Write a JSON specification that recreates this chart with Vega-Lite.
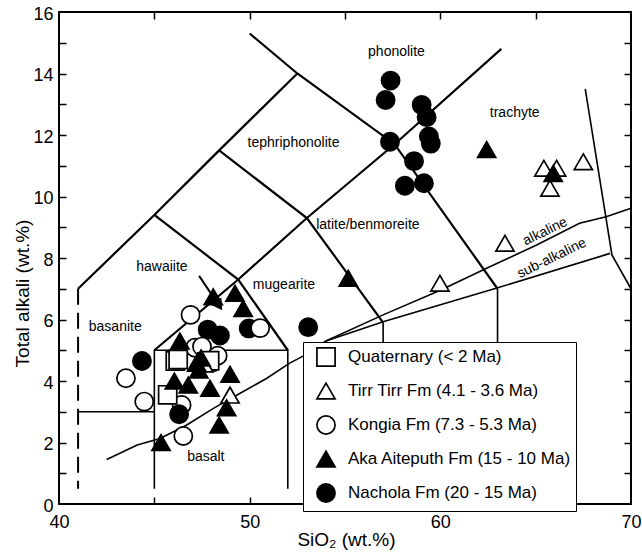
{
  "$schema": "https://vega.github.io/schema/vega-lite/v6.json",
  "autosize": "none",
  "width": 572,
  "height": 492,
  "padding": {"left": 59, "top": 12, "right": 11, "bottom": 50},
  "background": "white",
  "config": {
    "font": "Liberation Sans, Arial, sans-serif",
    "view": {"stroke": "black", "strokeWidth": 2},
    "axis": {
      "grid": false,
      "domain": false,
      "tickColor": "black",
      "tickWidth": 1.5,
      "tickSize": 7,
      "labelColor": "black",
      "labelFont": "Liberation Sans, Arial, sans-serif",
      "labelFontSize": 18,
      "labelFlush": false,
      "titleColor": "black",
      "titleFont": "Liberation Sans, Arial, sans-serif",
      "titleFontSize": 19,
      "titleFontWeight": "normal"
    },
    "legend": {
      "title": null,
      "orient": "none",
      "legendX": 244,
      "legendY": 330,
      "direction": "vertical",
      "fillColor": "white",
      "strokeColor": "black",
      "padding": 5,
      "labelFont": "Liberation Sans, Arial, sans-serif",
      "labelFontSize": 17,
      "labelColor": "black",
      "labelLimit": 400,
      "symbolSize": 330,
      "symbolStrokeWidth": 1.7,
      "symbolOffset": 8,
      "labelOffset": 12,
      "rowPadding": 9
    }
  },
  "datasets": {
    "boundaries": [
      {"seg": "A", "ord": 1, "sio2": 41, "alk": 7},
      {"seg": "A", "ord": 2, "sio2": 45, "alk": 9.4},
      {"seg": "A", "ord": 3, "sio2": 48.4, "alk": 11.5},
      {"seg": "A", "ord": 4, "sio2": 52.5, "alk": 14},
      {"seg": "B", "ord": 1, "sio2": 50, "alk": 15.3},
      {"seg": "B", "ord": 2, "sio2": 52.5, "alk": 14},
      {"seg": "B", "ord": 3, "sio2": 57.6, "alk": 11.7},
      {"seg": "B", "ord": 4, "sio2": 63, "alk": 7},
      {"seg": "C", "ord": 1, "sio2": 45, "alk": 9.4},
      {"seg": "C", "ord": 2, "sio2": 49.4, "alk": 7.3},
      {"seg": "C", "ord": 3, "sio2": 52, "alk": 5},
      {"seg": "D", "ord": 1, "sio2": 48.4, "alk": 11.5},
      {"seg": "D", "ord": 2, "sio2": 53, "alk": 9.3},
      {"seg": "D", "ord": 3, "sio2": 57, "alk": 5.9},
      {"seg": "E", "ord": 1, "sio2": 45, "alk": 5},
      {"seg": "E", "ord": 2, "sio2": 49.4, "alk": 7.3},
      {"seg": "E", "ord": 3, "sio2": 53, "alk": 9.3},
      {"seg": "E", "ord": 4, "sio2": 57.6, "alk": 11.7},
      {"seg": "E", "ord": 5, "sio2": 63.2, "alk": 14.8}
    ],
    "thinlines": [
      {"seg": "F", "ord": 1, "sio2": 67.6, "alk": 13.5},
      {"seg": "F", "ord": 2, "sio2": 69, "alk": 8.1},
      {"seg": "F", "ord": 3, "sio2": 70, "alk": 7.0},
      {"seg": "G", "ord": 1, "sio2": 41, "alk": 3},
      {"seg": "G", "ord": 2, "sio2": 45, "alk": 3},
      {"seg": "H", "ord": 1, "sio2": 45, "alk": 0.5},
      {"seg": "H", "ord": 2, "sio2": 45, "alk": 5},
      {"seg": "H", "ord": 3, "sio2": 52, "alk": 5},
      {"seg": "H", "ord": 4, "sio2": 52, "alk": 0.5},
      {"seg": "I", "ord": 1, "sio2": 57, "alk": 5.9},
      {"seg": "I", "ord": 2, "sio2": 57, "alk": 0.5},
      {"seg": "J", "ord": 1, "sio2": 63, "alk": 7},
      {"seg": "J", "ord": 2, "sio2": 63, "alk": 0.5},
      {"seg": "K", "ord": 1, "sio2": 42.5, "alk": 1.45},
      {"seg": "K", "ord": 2, "sio2": 44.1, "alk": 1.92},
      {"seg": "K", "ord": 3, "sio2": 45.3, "alk": 2.13},
      {"seg": "K", "ord": 4, "sio2": 46.7, "alk": 2.57},
      {"seg": "K", "ord": 5, "sio2": 48.1, "alk": 3.11},
      {"seg": "K", "ord": 6, "sio2": 49.5, "alk": 3.6},
      {"seg": "K", "ord": 7, "sio2": 50.9, "alk": 4.09},
      {"seg": "K", "ord": 8, "sio2": 52.1, "alk": 4.58},
      {"seg": "K", "ord": 9, "sio2": 52.8, "alk": 4.81},
      {"seg": "K", "ord": 10, "sio2": 54.0, "alk": 5.3},
      {"seg": "K", "ord": 11, "sio2": 57.0, "alk": 6.15},
      {"seg": "K", "ord": 12, "sio2": 60.0, "alk": 6.95},
      {"seg": "K", "ord": 13, "sio2": 62.4, "alk": 7.66},
      {"seg": "K", "ord": 14, "sio2": 65.05, "alk": 8.42},
      {"seg": "K", "ord": 15, "sio2": 67.3, "alk": 9.13},
      {"seg": "K", "ord": 16, "sio2": 68.7, "alk": 9.34},
      {"seg": "K", "ord": 17, "sio2": 70, "alk": 9.62},
      {"seg": "L", "ord": 1, "sio2": 54.0, "alk": 5.3},
      {"seg": "L", "ord": 2, "sio2": 57.0, "alk": 5.93},
      {"seg": "L", "ord": 3, "sio2": 63.1, "alk": 7.05},
      {"seg": "L", "ord": 4, "sio2": 68.9, "alk": 8.15}
    ],
    "dashed": [
      {"ord": 1, "sio2": 41, "alk": 7},
      {"ord": 2, "sio2": 41, "alk": 0.5}
    ],
    "arrow": [
      {"ord": 1, "sio2": 47.35, "alk": 7.42},
      {"ord": 2, "sio2": 48.45, "alk": 6.4}
    ],
    "arrowhead": [
      {"sio2": 48.4, "alk": 6.45}
    ],
    "fields": [
      {"name": "phonolite", "sio2": 57.7, "alk": 14.7},
      {"name": "trachyte", "sio2": 63.9, "alk": 12.7},
      {"name": "tephriphonolite", "sio2": 52.3, "alk": 11.74},
      {"name": "latite/benmoreite", "sio2": 56.2, "alk": 9.07},
      {"name": "hawaiite", "sio2": 45.4, "alk": 7.72},
      {"name": "mugearite", "sio2": 51.8, "alk": 7.12},
      {"name": "basanite", "sio2": 42.95, "alk": 5.77},
      {"name": "basalt", "sio2": 47.7, "alk": 1.54}
    ],
    "series": [
      {"name": "alkaline", "sio2": 65.5, "alk": 8.86},
      {"name": "sub-alkaline", "sio2": 65.85, "alk": 7.99}
    ],
    "samples": [
      {"unit": "Nachola Fm (20 - 15 Ma)", "sio2": 57.39, "alk": 13.77},
      {"unit": "Nachola Fm (20 - 15 Ma)", "sio2": 57.13, "alk": 13.14},
      {"unit": "Nachola Fm (20 - 15 Ma)", "sio2": 59.02, "alk": 12.98},
      {"unit": "Nachola Fm (20 - 15 Ma)", "sio2": 59.28, "alk": 12.58},
      {"unit": "Nachola Fm (20 - 15 Ma)", "sio2": 59.4, "alk": 11.95},
      {"unit": "Nachola Fm (20 - 15 Ma)", "sio2": 59.5, "alk": 11.72},
      {"unit": "Nachola Fm (20 - 15 Ma)", "sio2": 57.36, "alk": 11.78},
      {"unit": "Nachola Fm (20 - 15 Ma)", "sio2": 58.62, "alk": 11.15},
      {"unit": "Nachola Fm (20 - 15 Ma)", "sio2": 58.14, "alk": 10.35},
      {"unit": "Nachola Fm (20 - 15 Ma)", "sio2": 59.14, "alk": 10.43},
      {"unit": "Nachola Fm (20 - 15 Ma)", "sio2": 53.07, "alk": 5.75},
      {"unit": "Nachola Fm (20 - 15 Ma)", "sio2": 44.35, "alk": 4.65},
      {"unit": "Nachola Fm (20 - 15 Ma)", "sio2": 47.8, "alk": 5.67},
      {"unit": "Nachola Fm (20 - 15 Ma)", "sio2": 48.44, "alk": 5.48},
      {"unit": "Nachola Fm (20 - 15 Ma)", "sio2": 49.95, "alk": 5.71},
      {"unit": "Kongia Fm (7.3 - 5.3 Ma)", "sio2": 50.55, "alk": 5.72},
      {"unit": "Kongia Fm (7.3 - 5.3 Ma)", "sio2": 46.43, "alk": 3.22},
      {"unit": "Nachola Fm (20 - 15 Ma)", "sio2": 46.3, "alk": 2.92},
      {"unit": "Kongia Fm (7.3 - 5.3 Ma)", "sio2": 46.9, "alk": 6.15},
      {"unit": "Kongia Fm (7.3 - 5.3 Ma)", "sio2": 47.13, "alk": 5.08},
      {"unit": "Kongia Fm (7.3 - 5.3 Ma)", "sio2": 47.5, "alk": 5.12},
      {"unit": "Kongia Fm (7.3 - 5.3 Ma)", "sio2": 48.32, "alk": 4.82},
      {"unit": "Kongia Fm (7.3 - 5.3 Ma)", "sio2": 43.51, "alk": 4.09},
      {"unit": "Kongia Fm (7.3 - 5.3 Ma)", "sio2": 44.47, "alk": 3.33},
      {"unit": "Kongia Fm (7.3 - 5.3 Ma)", "sio2": 46.52, "alk": 2.21},
      {"unit": "Quaternary (< 2 Ma)", "sio2": 46.1, "alk": 4.65},
      {"unit": "Quaternary (< 2 Ma)", "sio2": 46.25, "alk": 4.7},
      {"unit": "Quaternary (< 2 Ma)", "sio2": 47.75, "alk": 4.62},
      {"unit": "Quaternary (< 2 Ma)", "sio2": 47.9, "alk": 4.66},
      {"unit": "Quaternary (< 2 Ma)", "sio2": 45.7, "alk": 3.55},
      {"unit": "Tirr Tirr Fm (4.1 - 3.6 Ma)", "sio2": 47.3, "alk": 4.6},
      {"unit": "Tirr Tirr Fm (4.1 - 3.6 Ma)", "sio2": 47.6, "alk": 4.55},
      {"unit": "Aka Aiteputh Fm (15 - 10 Ma)", "sio2": 62.43, "alk": 11.53},
      {"unit": "Aka Aiteputh Fm (15 - 10 Ma)", "sio2": 55.17, "alk": 7.34},
      {"unit": "Aka Aiteputh Fm (15 - 10 Ma)", "sio2": 48.09, "alk": 6.74},
      {"unit": "Aka Aiteputh Fm (15 - 10 Ma)", "sio2": 49.23, "alk": 6.85},
      {"unit": "Aka Aiteputh Fm (15 - 10 Ma)", "sio2": 49.66, "alk": 6.36},
      {"unit": "Aka Aiteputh Fm (15 - 10 Ma)", "sio2": 46.34, "alk": 5.3},
      {"unit": "Aka Aiteputh Fm (15 - 10 Ma)", "sio2": 46.05, "alk": 4.0},
      {"unit": "Aka Aiteputh Fm (15 - 10 Ma)", "sio2": 46.78, "alk": 3.87},
      {"unit": "Aka Aiteputh Fm (15 - 10 Ma)", "sio2": 47.33, "alk": 4.36},
      {"unit": "Aka Aiteputh Fm (15 - 10 Ma)", "sio2": 47.22, "alk": 4.58},
      {"unit": "Aka Aiteputh Fm (15 - 10 Ma)", "sio2": 47.45, "alk": 4.75},
      {"unit": "Aka Aiteputh Fm (15 - 10 Ma)", "sio2": 47.92, "alk": 3.76},
      {"unit": "Aka Aiteputh Fm (15 - 10 Ma)", "sio2": 48.97, "alk": 4.22},
      {"unit": "Tirr Tirr Fm (4.1 - 3.6 Ma)", "sio2": 48.97, "alk": 3.54},
      {"unit": "Aka Aiteputh Fm (15 - 10 Ma)", "sio2": 48.79, "alk": 3.13},
      {"unit": "Aka Aiteputh Fm (15 - 10 Ma)", "sio2": 48.4, "alk": 2.57},
      {"unit": "Aka Aiteputh Fm (15 - 10 Ma)", "sio2": 45.35, "alk": 2.0},
      {"unit": "Tirr Tirr Fm (4.1 - 3.6 Ma)", "sio2": 65.43, "alk": 10.92},
      {"unit": "Tirr Tirr Fm (4.1 - 3.6 Ma)", "sio2": 66.1, "alk": 10.92},
      {"unit": "Tirr Tirr Fm (4.1 - 3.6 Ma)", "sio2": 65.75, "alk": 10.27},
      {"unit": "Tirr Tirr Fm (4.1 - 3.6 Ma)", "sio2": 67.5, "alk": 11.13},
      {"unit": "Tirr Tirr Fm (4.1 - 3.6 Ma)", "sio2": 63.39, "alk": 8.48},
      {"unit": "Tirr Tirr Fm (4.1 - 3.6 Ma)", "sio2": 59.98, "alk": 7.18},
      {"unit": "Aka Aiteputh Fm (15 - 10 Ma)", "sio2": 65.92, "alk": 10.75}
    ]
  },
  "resolve": {"axis": {"x": "independent", "y": "independent"}},
  "layer": [
    {
      "data": {"name": "boundaries"},
      "mark": {"type": "line", "color": "black", "strokeWidth": 2.2},
      "encoding": {
        "x": {
          "field": "sio2", "type": "quantitative",
          "scale": {"domain": [40, 70], "nice": false, "zero": false},
          "axis": {
            "orient": "bottom",
            "title": "SiO₂ (wt.%)",
            "values": [40, 50, 60, 70],
            "ticks": false,
            "labelPadding": 9,
            "titleX": 287,
            "titleY": 35,
            "titleBaseline": "middle",
            "titleAlign": "center"
          }
        },
        "y": {
          "field": "alk", "type": "quantitative",
          "scale": {"domain": [0, 16], "nice": false, "zero": false},
          "axis": {
            "orient": "left",
            "title": "Total alkali (wt.%)",
            "values": [0, 2, 4, 6, 8, 10, 12, 14, 16],
            "ticks": false,
            "labelPadding": 6,
            "labelOffset": 2,
            "titleAngle": 270,
            "titleX": -37,
            "titleY": 281,
            "titleBaseline": "middle",
            "titleAlign": "center"
          }
        },
        "detail": {"field": "seg"},
        "order": {"field": "ord"}
      }
    },
    {
      "data": {"name": "thinlines"},
      "mark": {"type": "line", "color": "black", "strokeWidth": 1.6},
      "encoding": {
        "x": {
          "field": "sio2", "type": "quantitative",
          "axis": {
            "orient": "top",
            "offset": -7,
            "title": null,
            "labels": false,
            "values": [45, 50, 55, 60, 65]
          }
        },
        "y": {
          "field": "alk", "type": "quantitative",
          "axis": {
            "orient": "right",
            "offset": -7,
            "title": null,
            "labels": false,
            "values": [1, 2, 3, 4, 5, 6, 7, 8, 9, 10, 11, 12, 13, 14, 15]
          }
        },
        "detail": {"field": "seg"},
        "order": {"field": "ord"}
      }
    },
    {
      "data": {"name": "dashed"},
      "mark": {"type": "line", "color": "black", "strokeWidth": 2, "strokeDash": [16, 8]},
      "encoding": {
        "x": {
          "field": "sio2", "type": "quantitative",
          "axis": {
            "orient": "bottom",
            "offset": -7,
            "title": null,
            "labels": false,
            "values": [45, 50, 55, 60, 65]
          }
        },
        "y": {
          "field": "alk", "type": "quantitative",
          "axis": {
            "orient": "left",
            "offset": -7,
            "title": null,
            "labels": false,
            "values": [1, 2, 3, 4, 5, 6, 7, 8, 9, 10, 11, 12, 13, 14, 15]
          }
        },
        "order": {"field": "ord"}
      }
    },
    {
      "data": {"name": "arrow"},
      "mark": {"type": "line", "color": "black", "strokeWidth": 2},
      "encoding": {
        "x": {"field": "sio2", "type": "quantitative", "axis": null},
        "y": {"field": "alk", "type": "quantitative", "axis": null},
        "order": {"field": "ord"}
      }
    },
    {
      "data": {"name": "arrowhead"},
      "mark": {"type": "point", "shape": "triangle-up", "filled": true, "color": "black", "size": 160, "angle": 146, "opacity": 1},
      "encoding": {
        "x": {"field": "sio2", "type": "quantitative", "axis": null},
        "y": {"field": "alk", "type": "quantitative", "axis": null}
      }
    },
    {
      "data": {"name": "fields"},
      "mark": {"type": "text", "fontSize": 14, "color": "black", "align": "center", "baseline": "middle"},
      "encoding": {
        "x": {"field": "sio2", "type": "quantitative", "axis": null},
        "y": {"field": "alk", "type": "quantitative", "axis": null},
        "text": {"field": "name"}
      }
    },
    {
      "data": {"name": "series"},
      "mark": {"type": "text", "fontSize": 14, "color": "black", "align": "center", "baseline": "middle", "angle": 334},
      "encoding": {
        "x": {"field": "sio2", "type": "quantitative", "axis": null},
        "y": {"field": "alk", "type": "quantitative", "axis": null},
        "text": {"field": "name"}
      }
    },
    {
      "data": {"name": "samples"},
      "mark": {"type": "point", "filled": true, "strokeWidth": 1.7, "opacity": 1, "size": 330},
      "encoding": {
        "x": {"field": "sio2", "type": "quantitative", "axis": null},
        "y": {"field": "alk", "type": "quantitative", "axis": null},
        "shape": {
          "field": "unit", "type": "nominal",
          "scale": {
            "domain": ["Quaternary (< 2 Ma)", "Tirr Tirr Fm (4.1 - 3.6 Ma)", "Kongia Fm (7.3 - 5.3 Ma)", "Aka Aiteputh Fm (15 - 10 Ma)", "Nachola Fm (20 - 15 Ma)"],
            "range": ["square", "triangle-up", "circle", "triangle-up", "circle"]
          }
        },
        "fill": {
          "field": "unit", "type": "nominal",
          "scale": {
            "domain": ["Quaternary (< 2 Ma)", "Tirr Tirr Fm (4.1 - 3.6 Ma)", "Kongia Fm (7.3 - 5.3 Ma)", "Aka Aiteputh Fm (15 - 10 Ma)", "Nachola Fm (20 - 15 Ma)"],
            "range": ["white", "white", "white", "black", "black"]
          }
        },
        "stroke": {
          "field": "unit", "type": "nominal",
          "scale": {
            "domain": ["Quaternary (< 2 Ma)", "Tirr Tirr Fm (4.1 - 3.6 Ma)", "Kongia Fm (7.3 - 5.3 Ma)", "Aka Aiteputh Fm (15 - 10 Ma)", "Nachola Fm (20 - 15 Ma)"],
            "range": ["black", "black", "black", "black", "black"]
          }
        }
      }
    }
  ]
}
